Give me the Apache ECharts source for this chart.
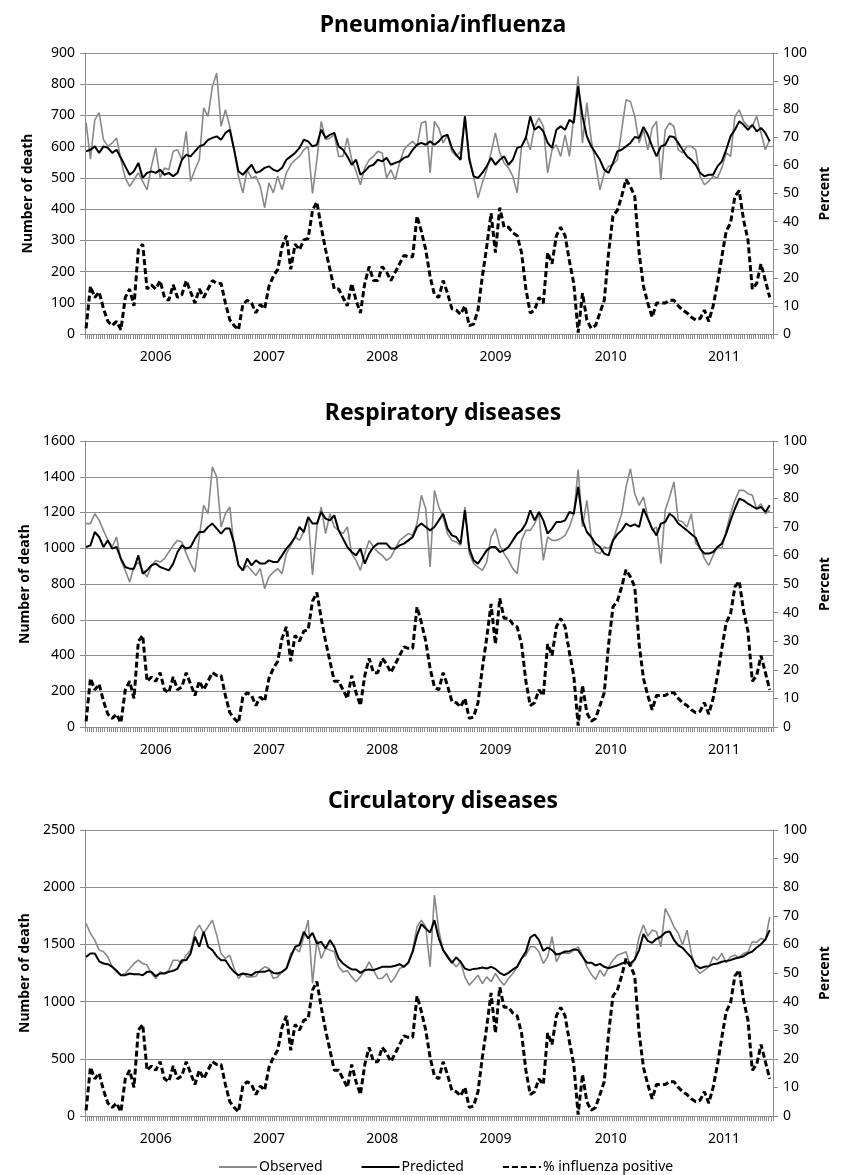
<!DOCTYPE html>
<html>
<head>
<meta charset="utf-8">
<script src="https://cdn.jsdelivr.net/npm/echarts@6/dist/echarts.min.js"></script>
<style>
  html, body { margin: 0; padding: 0; background: #fff; }
  #chart { width: 854px; height: 1175px; }
</style>
</head>
<body>
<div id="chart"></div>
<script>
// weekly x axis, values read every 2nd week
var weekCount = 316;
var weekStep = 2;
var yearLabels = ['2006', '2007', '2008', '2009', '2010', '2011'];
var yearLabelWeek = [32, 84, 136, 188, 241, 293];

// % influenza positive (same in all three panels)
var fluPositive = [2,17,13,15,9,4.5,3,4.5,1.5,13,16,10,30,32,16,17.5,16,19,13,12,17.5,13,14,19,15,11,16,13,16,19,18,18,11,5,3,1.5,10.5,12,11,7.5,10.5,9,17,20.5,23,31,35,23,32,30,33.5,34,
  44,47,38,30,23,16,16,13,10,18,12,7.5,18,24,19,19,24,22,19,22,25,28,27.5,27.5,42,36.5,30,20.5,14,13,19,14.5,9,8.5,7,10,3,3.5,8.5,20.5,31,43,29,45,38,38,36,35,29,16,7.5,8.5,13,
  11,29,25,35,38,35,26,18,0.5,14.5,5,2,3,7.5,12,29,42,44,49,55,52.5,49,29,17,11,6,11,11,11,12,12,10,8.5,7.5,6,5,5.5,8.5,4.5,10,18,27.5,36.5,39.5,49,51,40.5,33.5,16,18,25,19,13];

var pneuObserved = [676,560,686,708,622,601,612,628,558,500,473,494,516,489,462,537,596,500,532,526,585,590,558,649,489,526,558,724,697,793,836,665,718,665,590,505,452,526,500,505,473,404,484,452,505,462,516,542,558,569,590,601,
  450,558,681,622,628,638,569,569,628,558,521,478,532,558,569,585,580,500,526,494,548,590,606,617,601,676,681,516,681,660,612,638,585,569,585,697,569,505,436,484,526,580,644,580,548,532,505,452,601,633,590,665,692,
  665,516,590,606,569,638,569,697,825,612,740,622,548,462,516,537,542,558,654,750,745,697,612,654,590,660,681,494,654,676,665,590,580,601,601,590,505,478,489,505,500,532,580,569,697,718,681,665,665,697,644,590,622];
var pneuPredicted = [585,590,601,580,601,596,580,590,564,537,510,521,548,500,516,521,516,526,510,516,505,516,558,574,569,585,601,606,622,628,633,622,644,654,590,521,510,526,542,516,521,532,537,526,521,532,558,569,580,596,622,617,
  601,606,654,628,638,644,601,590,569,542,558,510,521,537,542,558,553,564,542,548,553,564,569,590,606,612,606,617,606,617,633,638,596,574,558,697,558,505,500,516,537,564,542,558,569,542,558,596,601,628,697,654,665,
  649,612,596,654,665,654,686,676,793,697,633,601,580,558,526,516,548,585,590,601,612,631,628,663,638,601,569,601,606,633,631,612,590,569,558,542,516,505,510,510,537,553,590,633,654,681,670,654,670,649,660,644,617];

var respObserved = [1138,1138,1193,1156,1100,1044,1007,1063,932,876,811,895,923,876,839,904,932,923,942,979,1016,1044,1035,970,914,867,1063,1240,1193,1455,1399,1119,1193,1231,1007,904,876,904,876,848,886,774,839,867,886,858,970,1016,1063,1044,1091,1175,
  850,1119,1231,1082,1193,1119,1100,1082,1119,970,932,876,970,1044,1007,979,960,932,951,998,1044,1063,1082,1072,1138,1296,1221,895,1324,1231,1175,1082,1044,1035,1016,1231,970,914,895,876,923,1063,1110,1016,970,932,886,858,1044,1100,1100,1138,1193,
  932,1063,1044,1044,1054,1072,1119,1193,1440,1119,1268,1063,979,970,1007,998,1044,1119,1193,1343,1445,1305,1240,1287,1175,1100,1119,914,1212,1287,1371,1156,1147,1119,1193,1026,1007,942,904,960,1007,998,1100,1193,1268,1324,1324,1305,1296,1221,1249,1193,1212];
var respPredicted = [1007,1016,1091,1063,1007,1044,998,1007,942,895,886,886,960,858,876,904,914,895,886,876,914,979,1016,998,1007,1054,1091,1091,1119,1138,1110,1082,1110,1110,1026,904,876,942,904,932,914,914,932,923,923,960,998,1026,1063,1119,1091,1175,
  1138,1138,1203,1166,1156,1184,1100,1054,1007,979,960,998,914,970,1007,1026,1026,1026,998,998,1016,1026,1044,1063,1119,1138,1119,1100,1119,1156,1193,1110,1072,1063,1026,1212,998,932,914,951,988,1007,1007,979,988,1007,1044,1082,1100,1138,1212,1156,1203,
  1156,1082,1110,1147,1147,1156,1203,1193,1343,1156,1091,1063,1026,1007,970,960,1044,1078,1100,1138,1123,1134,1119,1221,1166,1110,1072,1138,1147,1193,1175,1138,1119,1100,1078,1059,998,970,970,979,1007,1026,1082,1156,1221,1277,1268,1249,1235,1221,1231,1203,1240];

var circObserved = [1683,1596,1537,1450,1435,1391,1304,1260,1231,1246,1289,1333,1362,1333,1319,1246,1202,1260,1246,1275,1362,1362,1333,1406,1450,1610,1669,1596,1654,1712,1581,1421,1377,1406,1289,1202,1246,1216,1216,1222,1275,1304,1289,1202,1216,1260,1289,1421,1464,1435,1567,1712,
  1160,1537,1377,1464,1450,1435,1304,1260,1269,1216,1173,1216,1275,1348,1275,1202,1202,1246,1167,1216,1289,1304,1348,1450,1654,1712,1654,1304,1931,1625,1450,1406,1348,1304,1348,1216,1144,1187,1231,1158,1216,1173,1246,1187,1144,1202,1246,1304,1377,1406,1479,1479,1435,
  1333,1391,1567,1348,1421,1426,1421,1450,1479,1406,1304,1240,1193,1275,1222,1304,1362,1406,1421,1435,1304,1368,1567,1669,1572,1625,1610,1479,1814,1741,1654,1596,1494,1625,1421,1289,1246,1275,1304,1391,1362,1421,1339,1391,1406,1386,1421,1435,1523,1517,1552,1537,1741];
var circPredicted = [1391,1421,1421,1352,1333,1327,1304,1269,1231,1231,1246,1240,1240,1231,1260,1260,1222,1246,1246,1260,1269,1289,1362,1362,1421,1567,1479,1610,1479,1450,1397,1362,1362,1304,1260,1231,1246,1240,1231,1257,1260,1260,1275,1251,1246,1260,1289,1391,1479,1494,1610,1552,
  1600,1508,1523,1464,1537,1479,1377,1333,1304,1281,1281,1251,1275,1281,1275,1289,1304,1304,1304,1313,1327,1304,1339,1435,1581,1677,1639,1604,1712,1552,1450,1391,1339,1386,1348,1289,1275,1286,1289,1298,1289,1304,1286,1251,1231,1251,1281,1304,1377,1435,1560,1587,1537,
  1444,1473,1450,1412,1421,1438,1441,1456,1450,1392,1340,1340,1316,1330,1304,1292,1304,1316,1333,1345,1333,1368,1450,1590,1531,1514,1549,1567,1604,1613,1540,1491,1470,1426,1386,1316,1292,1304,1310,1327,1333,1348,1356,1362,1377,1386,1397,1421,1438,1473,1502,1543,1625];

var panelTitles = ['Pneumonia/influenza', 'Respiratory diseases', 'Circulatory diseases'];
var deathMax = [900, 1600, 2500];
var deathStep = [100, 200, 500];

var txtFont = "'Noto Sans', 'DejaVu Sans', sans-serif";
var gridGrey = '#8c8c8c';

var weeks = [];
for (var i = 0; i < weekCount; i++) { weeks.push(String(i)); }

function toPoints(arr) {
    return arr.map(function (v, k) { return [k * weekStep, v]; });
}

var panels = [
    { top: 53, height: 281, titleTop: 14, obs: pneuObserved, pred: pneuPredicted },
    { top: 441, height: 286, titleTop: 402, obs: respObserved, pred: respPredicted },
    { top: 830, height: 286, titleTop: 790, obs: circObserved, pred: circPredicted }
];

var option = {
    animation: false,
    backgroundColor: '#fff',
    title: [],
    grid: [],
    xAxis: [],
    yAxis: [],
    series: [],
    legend: {
        left: 213,
        top: 1155,
        itemWidth: 38,
        itemHeight: 14,
        itemGap: 38,
        data: ['Observed', 'Predicted', '% influenza positive'],
        itemStyle: { opacity: 0 },
        textStyle: { fontFamily: txtFont, fontSize: 14, color: '#000', padding: [0, 0, 0, -3] }
    }
};

panels.forEach(function (p, i) {
    option.title.push({
        text: panelTitles[i],
        left: 443,
        top: p.titleTop,
        textAlign: 'center',
        padding: 0,
        textStyle: { fontFamily: txtFont, fontSize: 23, fontWeight: 'bold', color: '#000' }
    });
    option.grid.push({ left: 85, right: 81, top: p.top, height: p.height });
    option.xAxis.push({
        type: 'category',
        gridIndex: i,
        data: weeks,
        boundaryGap: true,
        axisLine: { lineStyle: { color: gridGrey, width: 1 } },
        axisTick: { show: true, interval: 0, length: 5, lineStyle: { color: gridGrey } },
        axisLabel: {
            interval: function (idx) { return yearLabelWeek.indexOf(idx) >= 0; },
            formatter: function (v, idx) { return yearLabels[yearLabelWeek.indexOf(idx)]; },
            margin: 16,
            fontFamily: txtFont,
            fontSize: 14,
            color: '#000'
        },
        splitLine: { show: false }
    });
    option.yAxis.push({
        type: 'value',
        gridIndex: i,
        position: 'left',
        min: 0,
        max: deathMax[i],
        interval: deathStep[i],
        name: 'Number of death',
        nameLocation: 'middle',
        nameRotate: 90,
        nameGap: 50,
        nameTextStyle: { fontFamily: txtFont, fontSize: 14, fontWeight: 'bold', color: '#000' },
        axisLine: { show: true, lineStyle: { color: gridGrey, width: 1 } },
        axisTick: { show: true, length: 5, lineStyle: { color: gridGrey } },
        axisLabel: {
            margin: 10, fontFamily: txtFont, fontSize: 14, color: '#000',
            formatter: function (v) { return String(v); }
        },
        splitLine: { show: true, lineStyle: { color: gridGrey, width: 1 } }
    });
    option.yAxis.push({
        type: 'value',
        gridIndex: i,
        position: 'right',
        min: 0,
        max: 100,
        interval: 10,
        name: 'Percent',
        nameLocation: 'middle',
        nameRotate: 90,
        nameGap: 40,
        nameTextStyle: { fontFamily: txtFont, fontSize: 14, fontWeight: 'bold', color: '#000' },
        axisLine: { show: true, lineStyle: { color: gridGrey, width: 1 } },
        axisTick: { show: true, length: 5, lineStyle: { color: gridGrey } },
        axisLabel: { margin: 10, fontFamily: txtFont, fontSize: 14, color: '#000' },
        splitLine: { show: false }
    });
    option.series.push({
        name: 'Observed',
        type: 'line',
        xAxisIndex: i,
        yAxisIndex: i * 2,
        data: toPoints(p.obs),
        showSymbol: false,
        symbol: 'none',
        lineStyle: { color: '#888888', width: 1.6 },
        itemStyle: { color: '#888888' },
        z: 2
    });
    option.series.push({
        name: 'Predicted',
        type: 'line',
        xAxisIndex: i,
        yAxisIndex: i * 2,
        data: toPoints(p.pred),
        showSymbol: false,
        symbol: 'none',
        lineStyle: { color: '#000', width: 2 },
        itemStyle: { color: '#000' },
        z: 3
    });
    option.series.push({
        name: '% influenza positive',
        type: 'line',
        xAxisIndex: i,
        yAxisIndex: i * 2 + 1,
        data: toPoints(fluPositive),
        showSymbol: false,
        symbol: 'none',
        lineStyle: { color: '#000', width: 3, type: [6, 3] },
        itemStyle: { color: '#000' },
        z: 4
    });
});

var chart = echarts.init(document.getElementById('chart'), null, { renderer: 'canvas' });
chart.setOption(option);
</script>
</body>
</html>
